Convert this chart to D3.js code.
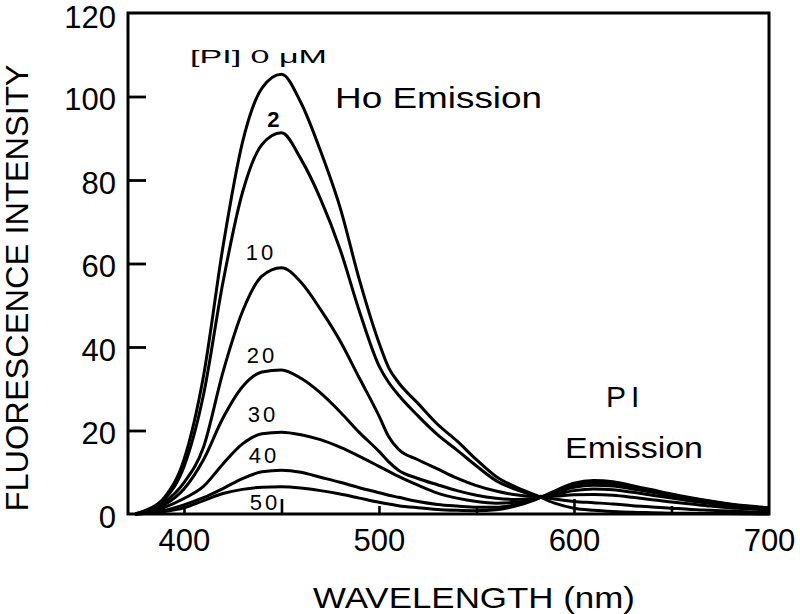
<!DOCTYPE html>
<html>
<head>
<meta charset="utf-8">
<script src="https://cdn.jsdelivr.net/npm/d3@7"></script>
<style>
  html, body { margin: 0; padding: 0; background: #fff; }
  svg { display: block; }
  text { font-family: "Liberation Sans", Arial, sans-serif; fill: #000; }
</style>
</head>
<body>
<svg id="chart" width="800" height="614"></svg>
<script>
// ---- data ----
const wavelengths = [375,380,390,400,410,420,430,440,450,460,470,480,490,500,505,510,520,530,540,550,560,570,580,590,600,610,620,630,640,650,660,670,680,690,700];
const pi0  = [0,0.8,4,13,33,64,89,102,105.3,98.5,87,73.5,56,41,35,31.5,26.5,21.5,17.5,13,9,6.5,4.6,2.6,1.4,0.9,0.6,0.4,0.3,0.2,0.15,0.1,0.1,0.05,0];
const pi2  = [0,0.7,3.5,11.3,28.5,55.5,77,88.5,91.3,85,75.5,63.5,48.5,35.5,31.5,28.5,23.5,19,15.3,11.5,8,5.9,4.4,3.6,3.0,2.7,2.4,2.0,1.7,1.4,1.1,0.9,0.7,0.5,0.4];
const pi10 = [0,0.6,2.8,7.5,16,34,48.5,57,59,55.5,49,41.5,32.5,23.5,18.5,15.5,13,10.8,8.6,6.8,5.5,4.6,4.2,4.3,4.6,4.7,4.5,4.0,3.4,2.9,2.4,1.9,1.5,1.2,0.9];
const pi20 = [0,0.4,2.2,6,13,23,30.5,34,34.5,32.5,29,24.5,19.5,15,12.5,10.5,8.5,7,5.6,4.5,3.8,3.5,3.8,4.6,5.6,6.0,5.8,5.2,4.5,3.8,3.1,2.5,2.0,1.6,1.2];
const pi30 = [0,0.3,1.6,3.7,6.6,12,16.8,19.2,19.6,19,17.8,16,13.8,11.4,10.2,9,6.9,5,3.8,3.0,2.6,2.8,3.6,5.0,6.4,6.9,6.7,6.0,5.2,4.3,3.5,2.8,2.2,1.7,1.3];
const pi40 = [0,0.2,0.9,2.2,3.9,6.1,8.5,10.1,10.5,10,8.8,7.6,6.3,5.1,4.5,4,3.0,2.3,1.9,1.6,1.6,2.2,3.5,5.3,7.0,7.5,7.2,6.4,5.5,4.6,3.7,3.0,2.3,1.8,1.4];
const pi50 = [0,0.1,0.6,1.5,3.2,4.9,5.9,6.4,6.5,6.2,5.6,4.8,3.8,2.8,2.4,2.0,1.5,1.1,0.9,0.8,1.0,1.9,3.4,5.5,7.4,8.0,7.7,6.8,5.8,4.8,3.9,3.1,2.4,1.9,1.5];
const seriesValues = [pi0, pi2, pi10, pi20, pi30, pi40, pi50];

const xTickValues = [400, 500, 600, 700];
const xTicksLong = [450, 600];
const xTicksShort = [400, 500, 550, 650];
const yTickValues = [0, 20, 40, 60, 80, 100, 120];

// concentration labels: [text, wavelength, intensity]
const concLabels = [["2",446.6,92.7],["10",439.5,60.8],["20",440,36.2],["30",440.5,22.0],["40",441,12.2],["50",441.6,1.0]];

// ---- drawing ----
const svg = d3.select("#chart");
svg.append("rect").attr("width",800).attr("height",614).attr("fill","#fff");

const x = d3.scaleLinear().domain([371.3, 700]).range([128, 769]);
const y = d3.scaleLinear().domain([0, 120]).range([514, 13]);

const line = d3.line()
  .x((d,i) => x(wavelengths[i]))
  .y(d => y(d))
  .curve(d3.curveMonotoneX);

svg.append("g").selectAll("path").data(seriesValues).join("path")
  .attr("d", line)
  .attr("fill","none").attr("stroke","#000").attr("stroke-width",3)
  .attr("stroke-linejoin","round");

// frame
svg.append("rect").attr("x",x(371.3)).attr("y",y(120))
  .attr("width",x(700)-x(371.3)).attr("height",y(0)-y(120))
  .attr("fill","none").attr("stroke","#000").attr("stroke-width",3);

// y axis ticks (inside)
const yAxis = d3.axisLeft(y).tickValues(yTickValues).tickSize(-18).tickPadding(0).tickFormat(d3.format("d"));
const gy = svg.append("g").attr("transform",`translate(${x(371.3)},0)`).call(yAxis);
gy.select(".domain").remove();
gy.selectAll(".tick line").attr("stroke","#000").attr("stroke-width",2.8)
  .filter(d => d === 0 || d === 120).remove();
gy.selectAll(".tick text").attr("x",-12).attr("dy",d => d === 120 ? "0.48em" : "0.42em")
  .style("font-size","31px").style("font-family","'Liberation Sans', Arial, sans-serif");

// x axis ticks (inside)
const gxl = svg.append("g").attr("transform",`translate(0,${y(0)})`)
  .call(d3.axisBottom(x).tickValues(xTicksLong).tickSize(-15).tickFormat(""));
gxl.select(".domain").remove();
gxl.selectAll(".tick line").attr("stroke","#000").attr("stroke-width",2.6);
const gxs = svg.append("g").attr("transform",`translate(0,${y(0)})`)
  .call(d3.axisBottom(x).tickValues(xTicksShort).tickSize(-8).tickFormat(""));
gxs.select(".domain").remove();
gxs.selectAll(".tick line").attr("stroke","#000").attr("stroke-width",2.6);

// x tick labels
const gxt = svg.append("g").attr("transform",`translate(0,${y(0)})`)
  .call(d3.axisBottom(x).tickValues(xTickValues).tickSize(0).tickPadding(15).tickFormat(d3.format("d")));
gxt.select(".domain").remove();
gxt.selectAll(".tick text").style("font-size","31px").style("font-family","'Liberation Sans', Arial, sans-serif");

// axis titles
svg.append("text").attr("x",474).attr("y",608).attr("text-anchor","middle")
  .attr("textLength",322).attr("lengthAdjust","spacingAndGlyphs")
  .style("font-size","30px").text("WAVELENGTH (nm)");
svg.append("text").attr("transform","translate(28,288) rotate(-90)").attr("text-anchor","middle")
  .attr("textLength",447).attr("lengthAdjust","spacingAndGlyphs")
  .style("font-size","32px").text("FLUORESCENCE INTENSITY");

// annotations
svg.append("text").attr("x",x(403.1)).attr("y",y(108)).attr("textLength",137).attr("lengthAdjust","spacingAndGlyphs")
  .style("font-size","18px").text("[PI] 0 μM");
svg.append("g").selectAll("text").data(concLabels).join("text")
  .attr("x",d => x(d[1])).attr("y",d => y(d[2])).attr("text-anchor","middle")
  .style("font-size","22px").style("letter-spacing","3px")
  .style("font-weight",d => d[0]==="2" ? "bold" : "normal")
  .text(d => d[0]);
svg.append("text").attr("x",x(477.5)).attr("y",y(97.2)).attr("textLength",207).attr("lengthAdjust","spacingAndGlyphs")
  .style("font-size","30px").text("Ho Emission");
svg.append("text").attr("x",x(626.2)).attr("y",y(25.6)).attr("text-anchor","middle").style("letter-spacing","5px")
  .style("font-size","30px").text("PI");
svg.append("text").attr("x",x(630.8)).attr("y",y(13.4)).attr("text-anchor","middle").attr("textLength",138).attr("lengthAdjust","spacingAndGlyphs")
  .style("font-size","30px").text("Emission");
</script>
</body>
</html>
